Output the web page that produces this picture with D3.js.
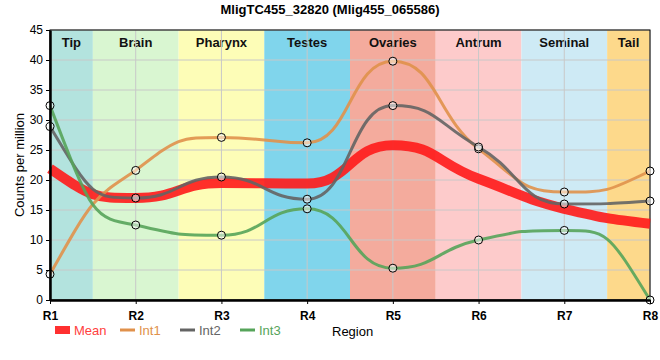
<!DOCTYPE html>
<html><head><meta charset="utf-8">
<script src="https://cdn.jsdelivr.net/npm/d3@7"></script>
<style>body{margin:0;background:#fff;} text{font-family:"Liberation Sans",Arial,sans-serif;}</style>
</head><body><svg id="c" width="660" height="360"></svg>
<script>
const categories = ["R1","R2","R3","R4","R5","R6","R7","R8"];
const regions = ["Tip","Brain","Pharynx","Testes","Ovaries","Antrum","Seminal","Tail"];
const regionColors = ["#b3e3de","#d9f6d1","#fdfdb7","#80d5ec","#f4ab9d","#fdcbcb","#ceeaf5","#fdd98b"];
const meanValues = [21.9,17.0,19.5,19.4,25.8,20.2,15.2,12.7];
const int1Values = [4.3,21.6,27.1,26.2,39.8,25.2,18.0,21.5];
const int2Values = [28.9,17.0,20.5,16.8,32.4,25.5,16.0,16.5];
const int3Values = [32.4,12.5,10.8,15.2,5.3,10.0,11.6,0.0];
const yTicks = [0,5,10,15,20,25,30,35,40,45];

// custom smooth curve (monotone tangents, wider control points)
function curveSmoothX(context){
  const K = 0.5;
  let xs=[], ys=[];
  const sign = v => v<0?-1:(v>0?1:0);
  const endSlope = (s,t) => { const a=3*s-2*t, b=(3*s-t)/2; return Math.abs(a)>Math.abs(b)?a:b; };
  return {
    areaStart(){}, areaEnd(){},
    lineStart(){ xs=[]; ys=[]; },
    point(x,y){ xs.push(+x); ys.push(+y); },
    lineEnd(){
      const n = xs.length; if(!n) return;
      context.moveTo(xs[0],ys[0]);
      if(n===1) return;
      const h=[], s=[];
      for(let i=0;i<n-1;i++){ h[i]=xs[i+1]-xs[i]; s[i]=(ys[i+1]-ys[i])/h[i]; }
      const t=new Array(n);
      for(let i=1;i<n-1;i++){
        const p=(s[i-1]*h[i]+s[i]*h[i-1])/(h[i-1]+h[i]);
        t[i]=(sign(s[i-1])+sign(s[i]))*Math.min(Math.abs(s[i-1]),Math.abs(s[i]),0.5*Math.abs(p))||0;
      }
      if(n===2){ t[0]=s[0]; t[1]=s[0]; }
      else { t[0]=endSlope(s[0],t[1]); t[n-1]=endSlope(s[n-2],t[n-2]); }
      for(let i=0;i<n-1;i++){
        const dy=ys[i+1]-ys[i];
        let a=t[i]*K*h[i], b=t[i+1]*K*h[i];
        const tot=Math.abs(a)+Math.abs(b);
        if(tot>Math.abs(dy) && tot>0){ const f=Math.abs(dy)/tot; a*=f; b*=f; }
        context.bezierCurveTo(xs[i]+K*h[i], ys[i]+a, xs[i+1]-K*h[i], ys[i+1]-b, xs[i+1], ys[i+1]);
      }
    }
  };
}

const svg = d3.select("#c");
const L=50,R=650,T=30,B=300;
const x = d3.scalePoint().domain(categories).range([L,R]);
const y = d3.scaleLinear().domain([0,45]).range([B,T]);
const step = x.step();

// bands
const bands = svg.append("g");
regions.forEach((r,i)=>{
  const x0 = Math.max(L, x(categories[i]) - step/2), x1 = Math.min(R, x(categories[i]) + step/2);
  bands.append("rect").attr("x",x0).attr("y",T).attr("width",x1-x0).attr("height",B-T).attr("fill",regionColors[i]);
  bands.append("text").attr("x",(x0+x1)/2).attr("y",T+17).attr("text-anchor","middle")
    .attr("font-size",13).attr("font-weight","bold").attr("fill","#111").text(r);
});

// grid
const grid = svg.append("g").attr("stroke","#c8c8c8").attr("stroke-width",1);
yTicks.forEach(t=>grid.append("line").attr("x1",L).attr("x2",R).attr("y1",y(t)).attr("y2",y(t)));
categories.forEach(c=>grid.append("line").attr("x1",x(c)).attr("x2",x(c)).attr("y1",T).attr("y2",B));

// frame
svg.append("rect").attr("x",L).attr("y",T).attr("width",R-L).attr("height",B-T).attr("fill","none").attr("stroke","#000").attr("stroke-width",1);

const line = d3.line().x((d,i)=>x(categories[i])).y(d=>y(d)).curve(curveSmoothX);
const series = [
  {name:"Int1",vals:int1Values,color:"#e0914b",w:3},
  {name:"Int2",vals:int2Values,color:"#646464",w:3},
  {name:"Int3",vals:int3Values,color:"#56a45a",w:3}
];
svg.append("path").attr("d",line(meanValues)).attr("fill","none").attr("stroke","#ff1a1a").attr("stroke-opacity",0.9).attr("stroke-width",10);
series.forEach(s=>{
  svg.append("path").attr("d",line(s.vals)).attr("fill","none").attr("stroke",s.color).attr("stroke-opacity",0.9).attr("stroke-width",s.w);
});
series.forEach(s=>{
  svg.append("g").selectAll("circle").data(s.vals).join("circle")
    .attr("cx",(d,i)=>x(categories[i])).attr("cy",d=>y(d)).attr("r",4)
    .attr("fill","#fff").attr("fill-opacity",0.5).attr("stroke","#000").attr("stroke-width",1);
});

// axes
const ya = svg.append("g").attr("transform",`translate(${L},0)`).call(d3.axisLeft(y).tickValues(yTicks).tickSize(4).tickSizeOuter(0));
ya.select(".domain").attr("stroke-width",2.5);
ya.selectAll("text").attr("font-size",12).attr("fill","#000").attr("font-family","Liberation Sans, Arial, sans-serif");
const xa = svg.append("g").attr("transform",`translate(0,${B})`).call(d3.axisBottom(x).tickSize(4).tickSizeOuter(0));
xa.select(".domain").attr("stroke-width",2.5);
xa.selectAll("text").attr("font-size",12).attr("font-weight","bold").attr("fill","#000").attr("dy","1.1em").attr("font-family","Liberation Sans, Arial, sans-serif");

// title
svg.append("text").attr("x",330).attr("y",14).attr("text-anchor","middle").attr("font-size",13).attr("font-weight","bold").text("MligTC455_32820 (Mlig455_065586)");
svg.append("text").attr("transform","translate(24,165) rotate(-90)").attr("text-anchor","middle").attr("font-size",13).text("Counts per million");
svg.append("text").attr("x",332).attr("y",336).attr("font-size",13).text("Region");

// legend
const leg = svg.append("g");
leg.append("rect").attr("x",55).attr("y",326).attr("width",15).attr("height",8).attr("fill","#ff1a1a").attr("fill-opacity",0.9);
leg.append("text").attr("x",74).attr("y",335).attr("font-size",13).attr("fill","#ff4040").text("Mean");
const lx=[120,180,240];
series.forEach((s,i)=>{
  leg.append("line").attr("x1",lx[i]).attr("x2",lx[i]+15).attr("y1",330).attr("y2",330).attr("stroke",s.color).attr("stroke-width",3);
  leg.append("text").attr("x",lx[i]+19).attr("y",335).attr("font-size",13).attr("fill",s.color).text(s.name);
});
</script></body></html>
